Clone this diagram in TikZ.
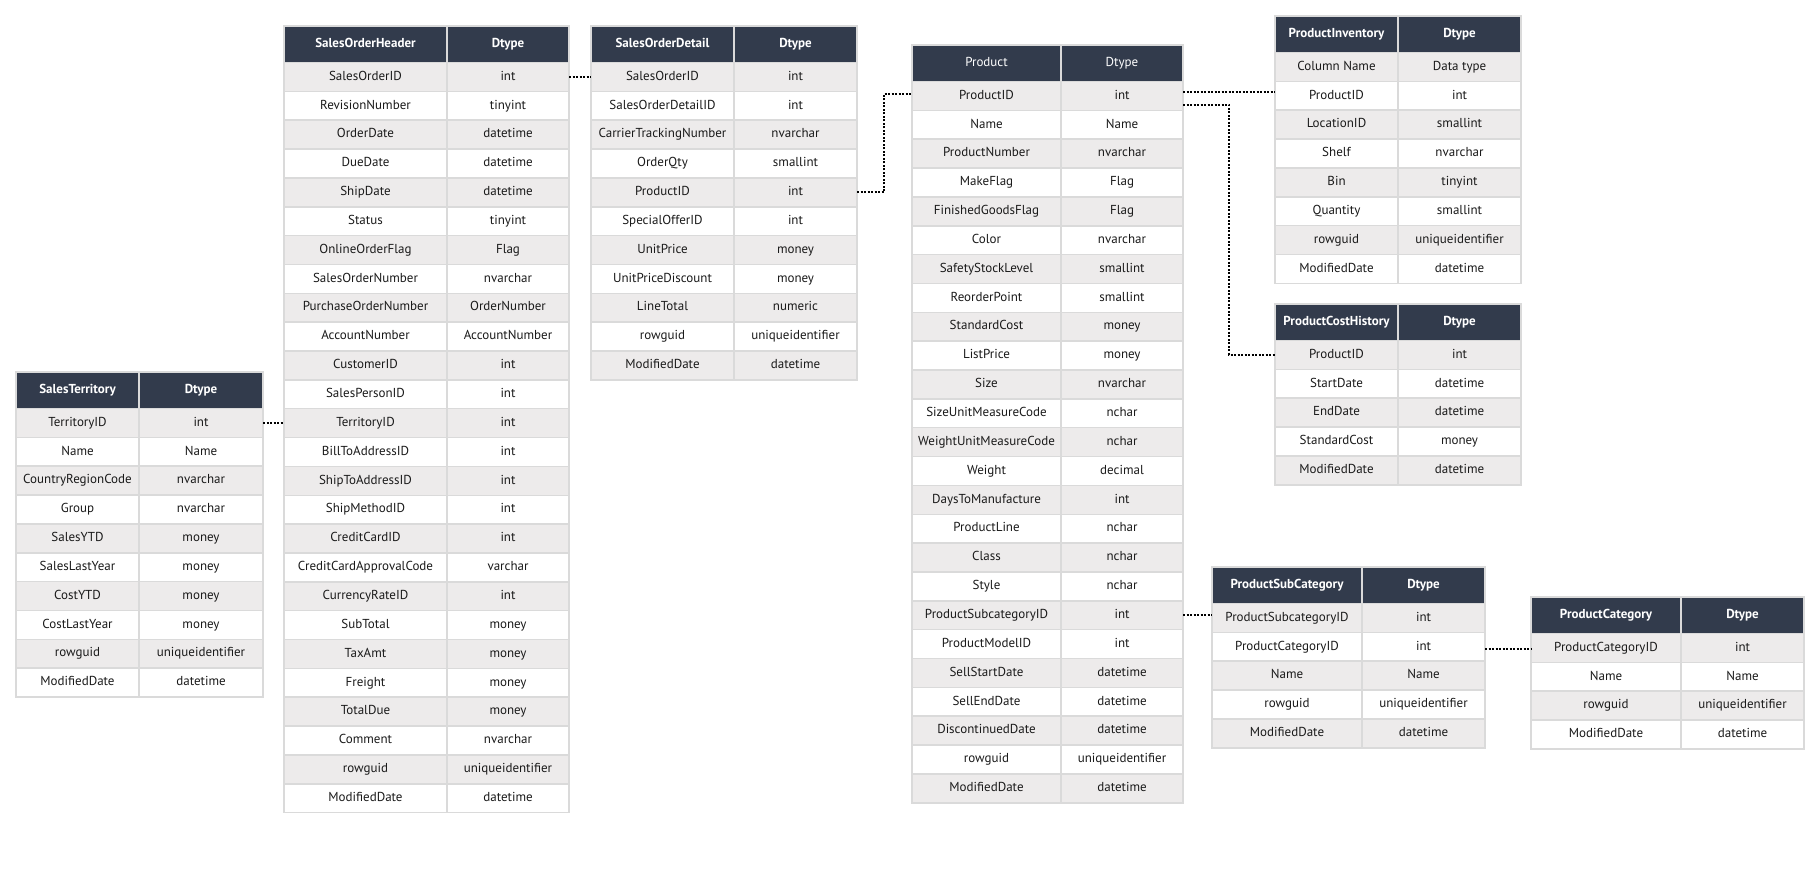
\documentclass[tikz,border=0pt]{standalone}
\usepackage{fontspec}
\setmainfont{PT Sans}
\usetikzlibrary{positioning}

\definecolor{hdnavy}{HTML}{323B4C}
\definecolor{rowgray}{HTML}{EDEBEB}
\definecolor{gridgray}{HTML}{DADADA}
\definecolor{txtdark}{HTML}{1A1A1A}

\tikzset{
  cell/.style={rectangle, draw=gridgray, line width=1.5pt, inner sep=0pt, outer sep=0pt,
    minimum height=28.85pt, text height=9.5pt, text depth=3pt,
    text=txtdark, font=\fontsize{13}{15}\selectfont},
  hdcell/.style={cell, fill=hdnavy, minimum height=36.5pt, text=white},
  fk/.style={draw=black, line width=2pt, dash pattern=on 2pt off 1.5pt}
}

\newcommand\hdweight{\bfseries}
% one table: name, left x, top y, width of both columns, title, rows
\newcommand\dbtable[7]{%
  \node[hdcell, minimum width=#4, anchor=north west] (#1-h-a) at (#2,#3) {\hdweight #6};
  \node[hdcell, minimum width=#5, anchor=north west] (#1-h-b) at (#1-h-a.north east) {\hdweight Dtype};
  \foreach \fld/\typ [count=\i] in {#7}{%
    \ifodd\i\def\rowfill{rowgray}\else\def\rowfill{white}\fi
    \node[cell, fill=\rowfill, minimum width=#4, anchor=north west] (#1-\i-a) at (#2,{#3+36.5+28.85*(\i-1)}) {\fld};
    \node[cell, fill=\rowfill, minimum width=#5, anchor=north west] (#1-\i-b) at (#1-\i-a.north east) {\typ};
  }%
}

\begin{document}
\begin{tikzpicture}[x=1pt, y=-1pt]
  \useasboundingbox (0,0) rectangle (1819,868);

  \dbtable{st}{16}{372}{123}{124}{SalesTerritory}{TerritoryID/int, Name/Name,
    CountryRegionCode/nvarchar, Group/nvarchar, SalesYTD/money, SalesLastYear/money,
    CostYTD/money, CostLastYear/money, rowguid/uniqueidentifier, ModifiedDate/datetime}

  \dbtable{soh}{284}{26}{163}{122}{SalesOrderHeader}{SalesOrderID/int,
    RevisionNumber/tinyint, OrderDate/datetime, DueDate/datetime, ShipDate/datetime,
    Status/tinyint, OnlineOrderFlag/Flag, SalesOrderNumber/nvarchar,
    PurchaseOrderNumber/OrderNumber, AccountNumber/AccountNumber, CustomerID/int,
    SalesPersonID/int, TerritoryID/int, BillToAddressID/int, ShipToAddressID/int,
    ShipMethodID/int, CreditCardID/int, CreditCardApprovalCode/varchar,
    CurrencyRateID/int, SubTotal/money, TaxAmt/money, Freight/money, TotalDue/money,
    Comment/nvarchar, rowguid/uniqueidentifier, ModifiedDate/datetime}

  \dbtable{sod}{591}{26}{143}{123}{SalesOrderDetail}{SalesOrderID/int,
    SalesOrderDetailID/int, CarrierTrackingNumber/nvarchar, OrderQty/smallint,
    ProductID/int, SpecialOfferID/int, UnitPrice/money, UnitPriceDiscount/money,
    LineTotal/numeric, rowguid/uniqueidentifier, ModifiedDate/datetime}

  {\renewcommand\hdweight{\mdseries}
  \dbtable{prod}{912}{45}{149}{122}{Product}{ProductID/int, Name/Name,
    ProductNumber/nvarchar, MakeFlag/Flag, FinishedGoodsFlag/Flag, Color/nvarchar,
    SafetyStockLevel/smallint, ReorderPoint/smallint, StandardCost/money,
    ListPrice/money, Size/nvarchar, SizeUnitMeasureCode/nchar,
    WeightUnitMeasureCode/nchar, Weight/decimal, DaysToManufacture/int,
    ProductLine/nchar, Class/nchar, Style/nchar, ProductSubcategoryID/int,
    ProductModelID/int, SellStartDate/datetime, SellEndDate/datetime,
    DiscontinuedDate/datetime, rowguid/uniqueidentifier, ModifiedDate/datetime}}

  \dbtable{pinv}{1275}{16}{123}{123}{ProductInventory}{Column Name/Data type,
    ProductID/int, LocationID/smallint, Shelf/nvarchar, Bin/tinyint,
    Quantity/smallint, rowguid/uniqueidentifier, ModifiedDate/datetime}

  \dbtable{pch}{1275}{304}{123}{123}{ProductCostHistory}{ProductID/int,
    StartDate/datetime, EndDate/datetime, StandardCost/money, ModifiedDate/datetime}

  \dbtable{psc}{1212}{567}{150}{123}{ProductSubCategory}{ProductSubcategoryID/int,
    ProductCategoryID/int, Name/Name, rowguid/uniqueidentifier, ModifiedDate/datetime}

  \dbtable{pcat}{1531}{597}{150}{123}{ProductCategory}{ProductCategoryID/int,
    Name/Name, rowguid/uniqueidentifier, ModifiedDate/datetime}

  % foreign keys
  \draw[fk] (st-1-b.east) -- (st-1-b.east -| soh-13-a.west);
  \draw[fk] (soh-1-b.east) -- (soh-1-b.east -| sod-1-a.west);
  \draw[fk] (sod-5-b.east) -- ++(27,0) |- ([yshift=2pt]prod-1-a.west);
  \draw[fk] ([yshift=4pt]prod-1-b.east) -- ([yshift=4pt]prod-1-b.east -| pinv-2-a.west);
  \draw[fk] ([yshift=-9pt]prod-1-b.east) -- ++(46,0) |- (pch-1-a.west);
  \draw[fk] (prod-19-b.east) -- (prod-19-b.east -| psc-1-a.west);
  \draw[fk] ([yshift=-2pt]psc-2-b.east) -- ([yshift=-2pt]psc-2-b.east -| pcat-1-a.west);
\end{tikzpicture}
\end{document}
